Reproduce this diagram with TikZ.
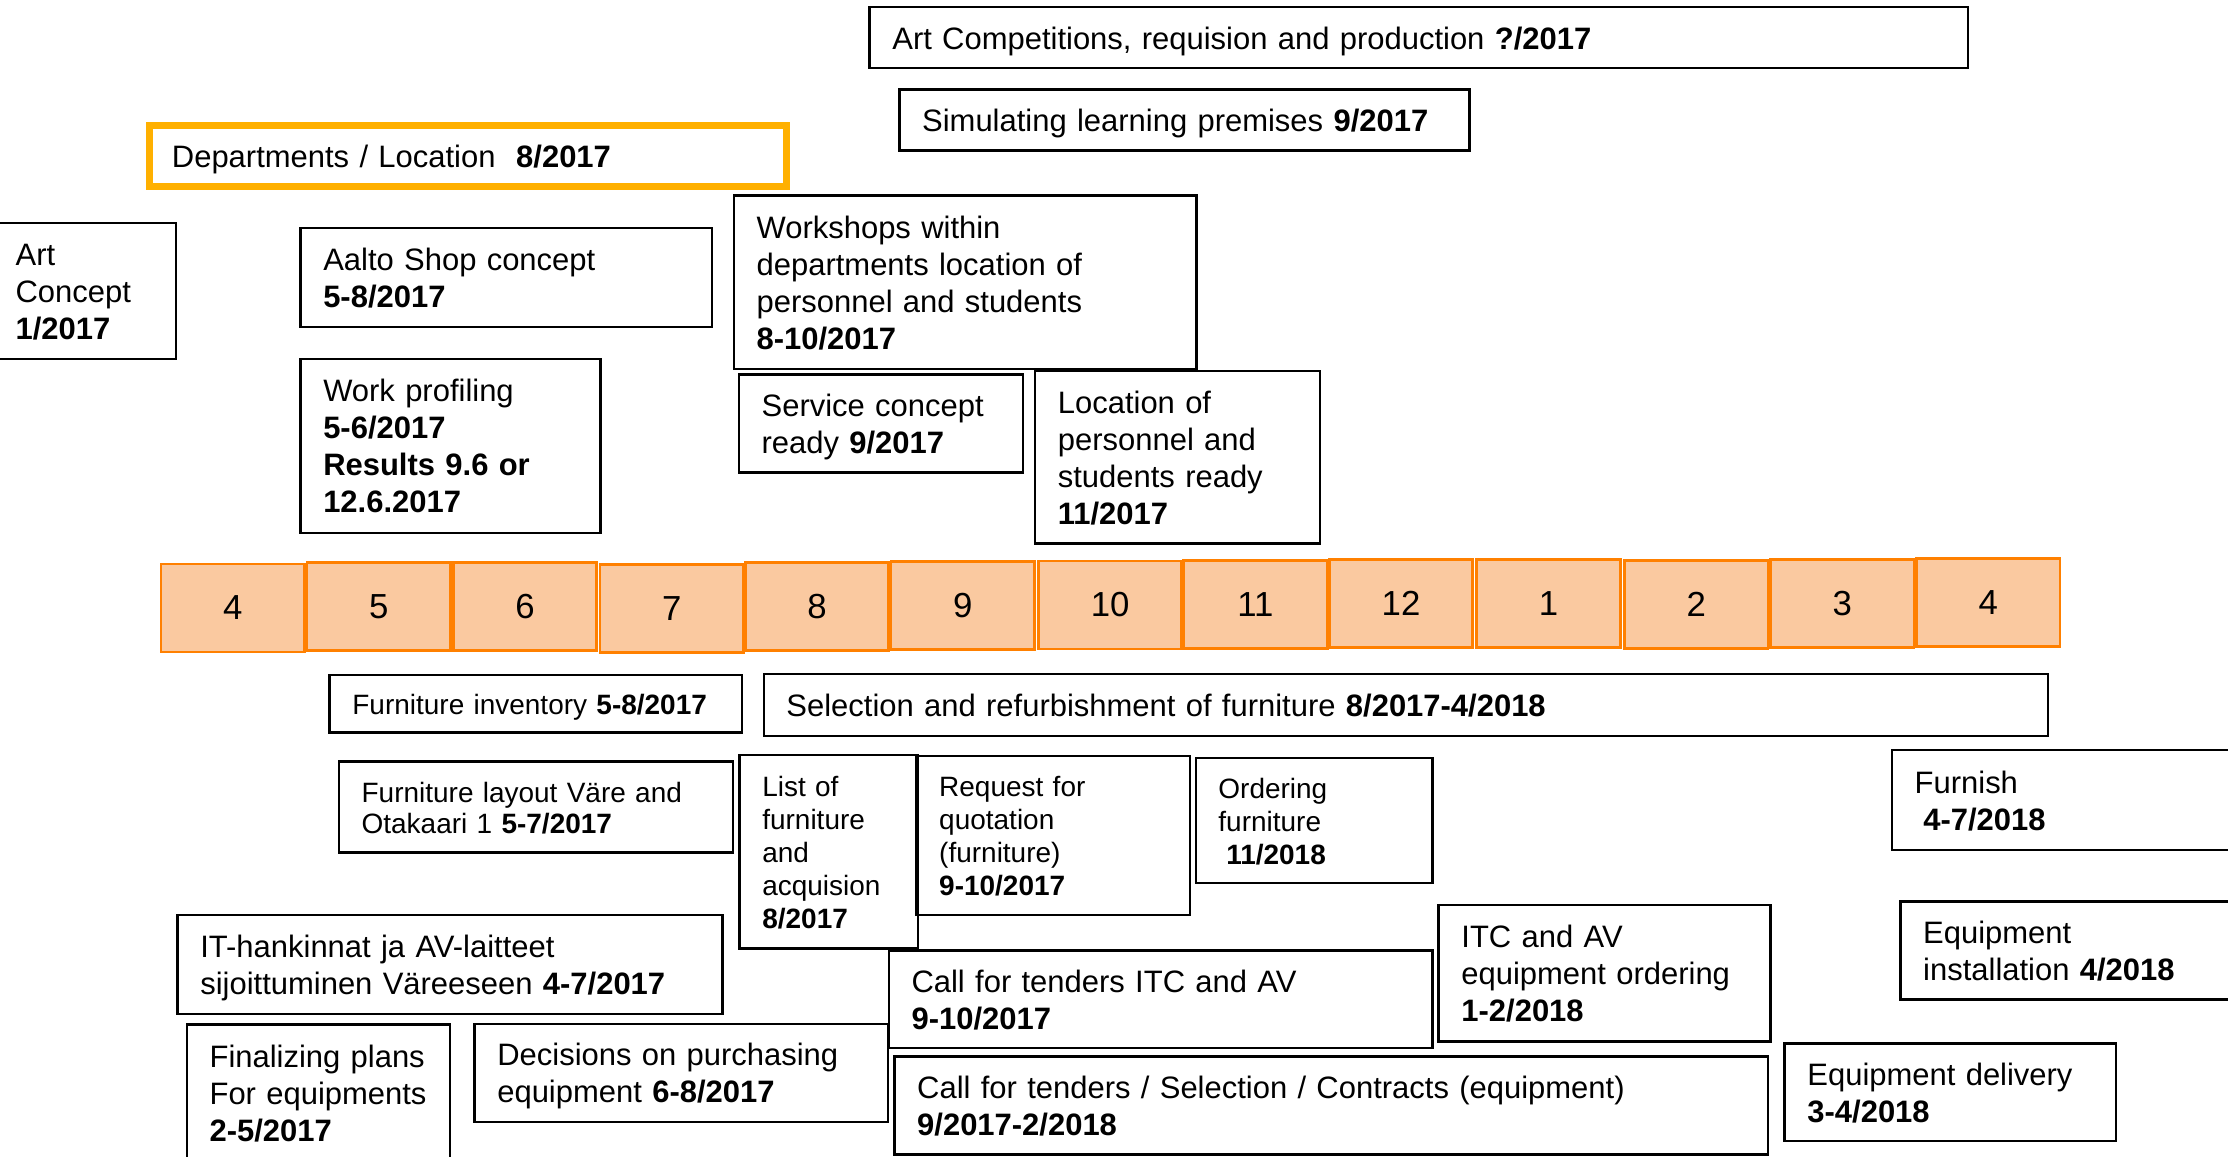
\documentclass[tikz,border=0pt]{standalone}
\usepackage{fontspec}
\setmainfont{Liberation Sans}
\definecolor{deptorange}{HTML}{FFB000}
\definecolor{monthfill}{HTML}{FAC9A0}
\definecolor{monthline}{HTML}{FF8000}

\begin{document}
\begin{tikzpicture}[x=0.025cm, y=-0.025cm,
    task/.style={draw, line width=1.2pt, anchor=north west, align=left, inner xsep=0.4cm, inner ysep=0pt, outer sep=0pt, font=\fontsize{15.5}{18.5}\selectfont,
      execute at begin node={\rule{0pt}{0.95em}}, execute at end node={\rule[-0.2em]{0pt}{0pt}}},
    smalltask/.style={task, font=\fontsize{14}{16.5}\selectfont},
    month/.style={draw=monthline, fill=monthfill, line width=1.4pt, minimum width=2.525cm, minimum height=1.55cm, inner sep=0pt, font=\fontsize{17.4}{20}\selectfont}]
\useasboundingbox (0,0) rectangle (1568,814.2);

% Above the months
\node[task, text width=18.525cm, minimum height=1.075cm] (artcomp) at (612,5) {Art Competitions, requision and production \textbf{?/2017}};
\node[task, text width=9.225cm, minimum height=1.075cm] (simul) at (633,63) {Simulating learning premises \textbf{9/2017}};
\node[task, draw=deptorange, line width=3.5pt, text width=10.41cm, minimum height=1.0625cm] (dept) at (105,88.5) {Departments / Location\ \ \textbf{8/2017}};
\node[task, inner xsep=0.35cm, text width=2.475cm, minimum height=2.3875cm] (artconcept) at (-3,157) {Art\\Concept\\\textbf{1/2017}};
\node[task, text width=6.4375cm, minimum height=1.7375cm] (aalto) at (211.5,160.5) {Aalto Shop concept\\\textbf{5-8/2017}};
\node[task, text width=7.3375cm, minimum height=3.05cm] (workshops) at (516.5,137.5) {Workshops within\\departments location of\\personnel and students\\\textbf{8-10/2017}};
\node[task, text width=4.475cm, minimum height=3.0625cm] (workprof) at (211.5,252.5) {Work profiling\\\textbf{5-6/2017}\\\textbf{Results 9.6 or}\\\textbf{12.6.2017}};
\node[task, text width=4.2cm, minimum height=1.725cm] (service) at (520,263.5) {Service concept\\ready \textbf{9/2017}};
\node[task, text width=4.2125cm, minimum height=3.0375cm] (locpers) at (728.5,261) {Location of\\personnel and\\students ready\\\textbf{11/2017}};

% Months
\foreach \m/\x/\y in {4/163.75/427.9, 5/266.5/427, 6/369.5/427, 7/472.75/428.2, 8/575/427, 9/677.5/426.2, 10/781.25/425.8, 11/883.5/425.4, 12/986/424.6, 1/1089.75/424.6, 2/1193.75/425.4, 3/1296.5/424.6, 4/1399.25/423.8}
    \node[month] (m\x) at (\x,\y) {\m};

% Furniture
\node[smalltask, text width=6.45cm, minimum height=1.0125cm] (furninv) at (232,475) {Furniture inventory \textbf{5-8/2017}};
\node[task, text width=21.7875cm, minimum height=1.0875cm] (selref) at (537.5,474.5) {Selection and refurbishment of furniture \textbf{8/2017-4/2018}};
\node[smalltask, font=\fontsize{14}{15.5}\selectfont, text width=6.1375cm, minimum height=1.6cm] (furnlay) at (238.5,536) {Furniture layout Väre and\\Otakaari 1 \textbf{5-7/2017}};
\node[smalltask, text width=2.3375cm, minimum height=3.4cm] (listfurn) at (520.5,531.5) {List of\\furniture\\and\\acquision\\\textbf{8/2017}};
\node[smalltask, text width=4.0125cm, minimum height=2.8cm] (reqquot) at (645,532) {Request for\\quotation\\(furniture)\\\textbf{9-10/2017}};
\node[smalltask, text width=3.3625cm, minimum height=2.2cm] (ordfurn) at (841.5,533.5) {Ordering\\furniture\\\hspace*{.28em}\textbf{11/2018}};
\node[task, text width=5.9125cm, minimum height=1.75cm] (furnish) at (1331.5,528) {Furnish\\\hspace*{.28em}\textbf{4-7/2018}};

% Equipment
\node[task, text width=8.7875cm, minimum height=1.7375cm] (ithank) at (125,644) {IT-hankinnat ja AV-laitteet\\sijoittuminen Väreeseen \textbf{4-7/2017}};
\node[task, text width=8.7625cm, minimum height=1.7125cm] (cftitc) at (625.5,669) {Call for tenders ITC and AV\\\textbf{9-10/2017}};
\node[task, text width=5.0375cm, minimum height=2.4cm] (itcord) at (1012.5,637) {ITC and AV\\equipment ordering\\\textbf{1-2/2018}};
\node[task, text width=5.7625cm, minimum height=1.725cm] (eqinst) at (1337.5,634.5) {Equipment\\installation \textbf{4/2018}};
\node[task, text width=3.825cm, minimum height=2.4cm] (finplans) at (131.5,721) {Finalizing plans\\For equipments\\\textbf{2-5/2017}};
\node[task, text width=6.475cm, minimum height=1.725cm] (decisions) at (334,720.5) {Decisions on purchasing\\equipment \textbf{6-8/2017}};
\node[task, text width=14.5625cm, minimum height=1.725cm] (cftsel) at (629.5,743.5) {Call for tenders / Selection / Contracts (equipment)\\\textbf{9/2017-2/2018}};
\node[task, text width=5.025cm, minimum height=1.7125cm] (eqdel) at (1256,734.5) {Equipment delivery\\\textbf{3-4/2018}};
\end{tikzpicture}
\end{document}
